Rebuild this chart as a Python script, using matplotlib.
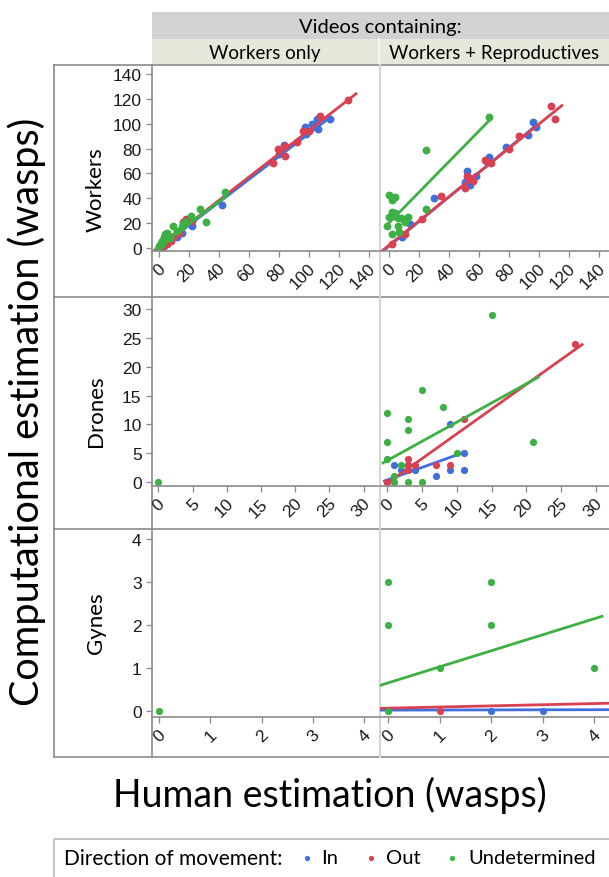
"""
Computational vs human wasp counts, faceted by caste and video type
"""

import matplotlib.pyplot as plt
from matplotlib.patches import Rectangle
from matplotlib.transforms import ScaledTranslation

W, H = 609, 878

groups = ["In", "Out", "Undetermined"]
colors = {"In": "#3f6fde", "Out": "#d94052", "Undetermined": "#3cb043"}

# Workers - videos with workers only
wk_only_in = [(3, 2), (5, 4), (8, 8), (12, 9), (15, 12), (22, 18), (42, 35), (80, 76),
              (83, 83), (97, 97), (98, 92), (102, 100), (105, 104), (106, 96), (114, 104)]
wk_only_out = [(2, 1), (5, 3), (8, 6), (10, 10), (13, 12), (16, 21), (18, 23), (22, 22),
               (76, 68), (79, 80), (84, 82), (84, 74), (92, 85), (96, 94), (100, 94),
               (107, 106), (126, 119)]
wk_only_und = [(0, 2), (1, 4), (2, 3), (2, 6), (3, 6), (3, 9), (4, 11), (5, 12), (6, 10),
               (7, 8), (9, 18), (12, 14), (15, 17), (16, 19), (17, 21), (21, 26), (27, 31),
               (31, 21), (44, 45)]

# Workers - videos with workers + reproductives
wk_rep_in = [(9, 9), (14, 19), (30, 40), (51, 53), (52, 62), (54, 51), (58, 58), (65, 70),
             (67, 73), (78, 81), (93, 91), (96, 101), (98, 97)]
wk_rep_out = [(2, 3), (11, 11), (22, 23), (35, 42), (51, 48), (52, 58), (54, 56), (56, 54),
              (64, 71), (68, 68), (80, 80), (87, 90), (108, 114), (111, 104)]
wk_rep_und = [(-1, 18), (0, 25), (0, 43), (2, 11), (2, 29), (2, 39), (3, 26), (4, 28),
              (4, 41), (6, 18), (6, 24), (7, 13), (8, 24), (11, 21), (13, 25), (25, 31),
              (25, 79), (67, 105)]

# Drones
dr_only_und = [(0, 0)]
dr_rep_in = [(0, 0), (1, 3), (2, 2), (3, 3), (4, 2), (7, 1), (9, 2), (9, 10), (11, 2), (11, 5)]
dr_rep_out = [(0, 0), (3, 2), (3, 3), (3, 4), (4, 3), (7, 3), (9, 3), (11, 11), (27, 24)]
dr_rep_und = [(0, 4), (0, 7), (0, 12), (1, 0), (1, 1), (2, 3), (3, 0), (3, 9), (3, 11),
              (5, 0), (5, 16), (8, 13), (10, 5), (15, 29), (21, 7)]

# Gynes
gy_only_und = [(0, 0)]
gy_rep_in = [(2, 0), (3, 0)]
gy_rep_out = [(1, 0)]
gy_rep_und = [(0, 0), (0, 2), (0, 3), (1, 1), (2, 2), (2, 3), (4, 1)]

# fitted lines (end points)
fit_wk_only_in = [(-3, -2.5), (115, 106)]
fit_wk_only_out = [(-4, -2.6), (132, 124.7)]
fit_wk_only_und = [(-3, -1), (45, 42)]
fit_wk_rep_in = [(-5, -3.5), (99, 99.5)]
fit_wk_rep_out = [(-5, -2.6), (116, 115.3)]
fit_wk_rep_und = [(-1, 19), (68, 104)]
fit_dr_rep_in = [(-0.6, 0.1), (11.4, 5.3)]
fit_dr_rep_out = [(-0.3, -0.5), (28.2, 24.0)]
fit_dr_rep_und = [(-0.8, 3.2), (21.9, 18.3)]
fit_gy_rep_in = [(-0.2, 0.02), (4.3, 0.03)]
fit_gy_rep_out = [(-0.2, 0.06), (4.3, 0.18)]
fit_gy_rep_und = [(-0.2, 0.58), (4.18, 2.21)]

row_names = ["Workers", "Drones", "Gynes"]
col_names = ["Workers only", "Workers + Reproductives"]
row_ticks = [list(range(0, 141, 20)), list(range(0, 31, 5)), list(range(0, 5))]

points = {
    (0, 0): {"In": wk_only_in, "Out": wk_only_out, "Undetermined": wk_only_und},
    (0, 1): {"In": wk_rep_in, "Out": wk_rep_out, "Undetermined": wk_rep_und},
    (1, 0): {"Undetermined": dr_only_und},
    (1, 1): {"In": dr_rep_in, "Out": dr_rep_out, "Undetermined": dr_rep_und},
    (2, 0): {"Undetermined": gy_only_und},
    (2, 1): {"In": gy_rep_in, "Out": gy_rep_out, "Undetermined": gy_rep_und},
}
fits = {
    (0, 0): {"In": fit_wk_only_in, "Out": fit_wk_only_out, "Undetermined": fit_wk_only_und},
    (0, 1): {"In": fit_wk_rep_in, "Out": fit_wk_rep_out, "Undetermined": fit_wk_rep_und},
    (1, 1): {"In": fit_dr_rep_in, "Out": fit_dr_rep_out, "Undetermined": fit_dr_rep_und},
    (2, 1): {"In": fit_gy_rep_in, "Out": fit_gy_rep_out, "Undetermined": fit_gy_rep_und},
}

# layout in pixels
row_top = [66, 297.5, 530]
row_axis = [252, 487, 718]
row_bottom = [297.5, 530, 758]
col_left = [152, 380]
col_right = [378, 609]
xlims = {
    (0, 0): (-5, 146), (0, 1): (-6, 146.7),
    (1, 0): (-0.93, 32.1), (1, 1): (-1.05, 31.9),
    (2, 0): (-0.14, 4.27), (2, 1): (-0.16, 4.29),
}
ylims = [(-2.4, 147.2), (-0.7, 32.2), (-0.14, 4.23)]
row_label_y = [190, 411, 623]

frame_c = "#8a8a8a"
ui_font = "Lato"
tick_font = "Liberation Sans"

fig = plt.figure(figsize=(W / 100, H / 100), dpi=100, facecolor="white")

bg = fig.add_axes([0, 0, 1, 1], zorder=-1)
bg.set_xlim(0, W)
bg.set_ylim(H, 0)
bg.axis("off")

# header strips
bg.add_patch(Rectangle((152, 13), W - 152, 27, fc="#d2d2d2", ec="none"))
bg.add_patch(Rectangle((152, 40), W - 152, 26, fc="#e7e7db", ec="none"))
bg.plot([379, 379], [40, 66], color="#f6f6f0", lw=1.5)
bg.text(380, 27, "Videos containing:", family=ui_font, fontsize=14.5,
        ha="center", va="center")
for c, name in enumerate(col_names):
    bg.text((col_left[c] + col_right[c]) / 2, 53.5, name, family=ui_font,
            fontsize=13.5, ha="center", va="center")

# frame
bg.plot([54, 54], [66, 758], color=frame_c, lw=1.2)
bg.plot([54, W], [66, 66], color=frame_c, lw=1.2)
for yb in row_bottom:
    bg.plot([54, W], [yb, yb], color=frame_c, lw=1.2)
bg.plot([152, 152], [66, 758], color=frame_c, lw=1.2)
bg.plot([380, 380], [66, 758], color="#d6d6d6", lw=1.6)

for r, name in enumerate(row_names):
    bg.text(96, row_label_y[r], name, family=ui_font, fontsize=16,
            rotation=90, ha="center", va="center")

bg.text(27, 412, "Computational estimation (wasps)", family=ui_font, fontsize=28.5,
        rotation=90, ha="center", va="center")
bg.text(330, 795, "Human estimation (wasps)", family=ui_font, fontsize=27,
        ha="center", va="center")

# legend
bg.add_patch(Rectangle((54, 840), W + 10 - 54, 50, fc="none", ec="#b5b5b5", lw=1.2))
bg.text(64, 859, "Direction of movement:", family=ui_font, fontsize=15,
        ha="left", va="center")
for g, mx, tx in zip(groups, [307, 371, 452], [321, 386, 468]):
    bg.scatter([mx], [859], s=14, color=colors[g], linewidths=0)
    bg.text(tx, 859, g, family=ui_font, fontsize=14.5, ha="left", va="center")

# nudge rotated x tick labels a little to the right
shift = ScaledTranslation(4 / 100, 0, fig.dpi_scale_trans)

# panels
for r in range(3):
    for c in range(2):
        x0, x1 = col_left[c], col_right[c]
        y0, y1 = row_top[r], row_axis[r]
        ax = fig.add_axes([x0 / W, 1 - y1 / H, (x1 - x0) / W, (y1 - y0) / H])
        ax.set_facecolor("none")
        for side in ["top", "right", "left"]:
            ax.spines[side].set_visible(False)
        ax.spines["bottom"].set_color(frame_c)
        ax.spines["bottom"].set_linewidth(1.2)

        dot = 32 if r == 0 else 27
        pts = points.get((r, c), {})
        lns = fits.get((r, c), {})
        for g in groups:
            if g in pts:
                xs = [p[0] for p in pts[g]]
                ys = [p[1] for p in pts[g]]
                ax.scatter(xs, ys, s=dot, color=colors[g], linewidths=0, zorder=2)
            if g in lns:
                ax.plot([p[0] for p in lns[g]], [p[1] for p in lns[g]],
                        color=colors[g], lw=2.0, zorder=2, solid_capstyle="butt")

        ax.set_xlim(*xlims[(r, c)])
        ax.set_ylim(*ylims[r])
        ax.set_xticks(row_ticks[r])
        ax.set_yticks(row_ticks[r])
        ax.tick_params(axis="both", direction="out", length=4.5, width=0.9,
                       color=frame_c)
        ax.tick_params(axis="x", pad=6)
        if c == 0:
            ax.set_yticklabels([str(t) for t in row_ticks[r]], family=tick_font,
                               fontsize=12.5, color="#1a1a1a")
            ax.tick_params(axis="y", pad=3)
        else:
            ax.tick_params(axis="y", left=False, labelleft=False)
        ax.set_xticklabels([str(t) for t in row_ticks[r]], rotation=45, ha="right",
                           va="center", rotation_mode="anchor",
                           family=tick_font, fontsize=12.5, color="#1a1a1a")
        for lab in ax.get_xticklabels():
            lab.set_transform(lab.get_transform() + shift)

fig.savefig("out.png", dpi=100)
